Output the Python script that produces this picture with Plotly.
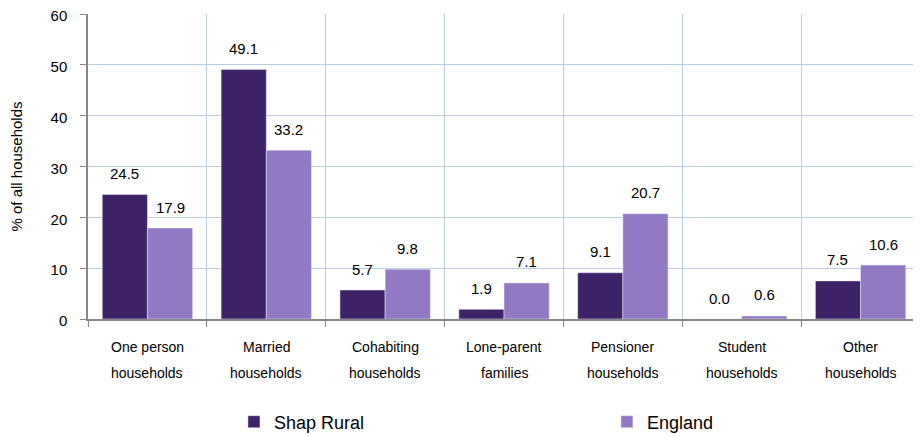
import plotly.graph_objects as go

categories = ["One person households", "Married households", "Cohabiting households",
              "Lone-parent families", "Pensioner households", "Student households",
              "Other households"]
label_line1 = ["One person", "Married", "Cohabiting", "Lone-parent", "Pensioner", "Student", "Other"]
label_line2 = ["households", "households", "households", "families", "households", "households",
               "households"]
shap_rural = [24.5, 49.1, 5.7, 1.9, 9.1, 0.0, 7.5]
england = [17.9, 33.2, 9.8, 7.1, 20.7, 0.6, 10.6]
y_ticks = [0, 10, 20, 30, 40, 50, 60]

FONT = "Liberation Sans, Arial, sans-serif"
BLACK = "#000000"

fig = go.Figure()
fig.add_trace(go.Bar(name="Shap Rural", x=categories, y=shap_rural, marker_color="#3E2368",
                     legend="legend", showlegend=True))
fig.add_trace(go.Bar(name="England", x=categories, y=england, marker_color="#9279C3",
                     legend="legend2", showlegend=True))

# value labels above each bar
for series, shift in ((shap_rural, -22.6), (england, 22.6)):
    for cat, v in zip(categories, series):
        fig.add_annotation(x=cat, y=v, xref="x", yref="y", text=f"{v:.1f}", showarrow=False,
                           xshift=shift, yshift=21, yanchor="middle",
                           font=dict(size=15, family=FONT, color=BLACK))

# two-line category labels
for cat, l1, l2 in zip(categories, label_line1, label_line2):
    fig.add_annotation(x=cat, y=0, xref="x", yref="y", text=l1, showarrow=False,
                       yshift=-28, yanchor="middle", font=dict(size=14, family=FONT, color=BLACK))
    fig.add_annotation(x=cat, y=0, xref="x", yref="y", text=l2, showarrow=False,
                       yshift=-54, yanchor="middle", font=dict(size=14, family=FONT, color=BLACK))

legend_common = dict(orientation="h", xref="container", yref="container", xanchor="left",
                     yanchor="middle", y=0.0327, font=dict(size=18, family=FONT, color=BLACK),
                     itemwidth=30, bgcolor="rgba(0,0,0,0)", visible=True)

fig.update_layout(
    width=913, height=428,
    showlegend=True,
    margin=dict(l=80, r=1, t=6, b=117, autoexpand=False),
    paper_bgcolor="white", plot_bgcolor="white",
    barmode="group", bargap=0.24, bargroupgap=0,
    font=dict(family=FONT, color=BLACK),
    legend=dict(x=0.2475, **legend_common),
    legend2=dict(x=0.656, **legend_common),
    xaxis=dict(tickson="boundaries", showgrid=True, gridcolor="#B9CDE5", gridwidth=1,
               ticks="outside", ticklen=6, tickcolor="#888888", showticklabels=False,
               showline=True, linecolor="#888888", linewidth=1.5, automargin=False,
               range=[-0.5, 6.5]),
    yaxis=dict(range=[0, 60], tickvals=y_ticks, showgrid=True, gridcolor="#B9CDE5",
               ticks="outside", ticklen=6, tickcolor="#888888", automargin=False,
               showline=True, linecolor="#888888", linewidth=1.5, ticklabelstandoff=10,
               ticklabeloverflow="allow", ticklabelshift=2,
               tickfont=dict(size=15, family=FONT), zeroline=False,
               title=dict(text="% of all households", font=dict(size=15, family=FONT), standoff=27)),
)

fig.write_html("out.html")
